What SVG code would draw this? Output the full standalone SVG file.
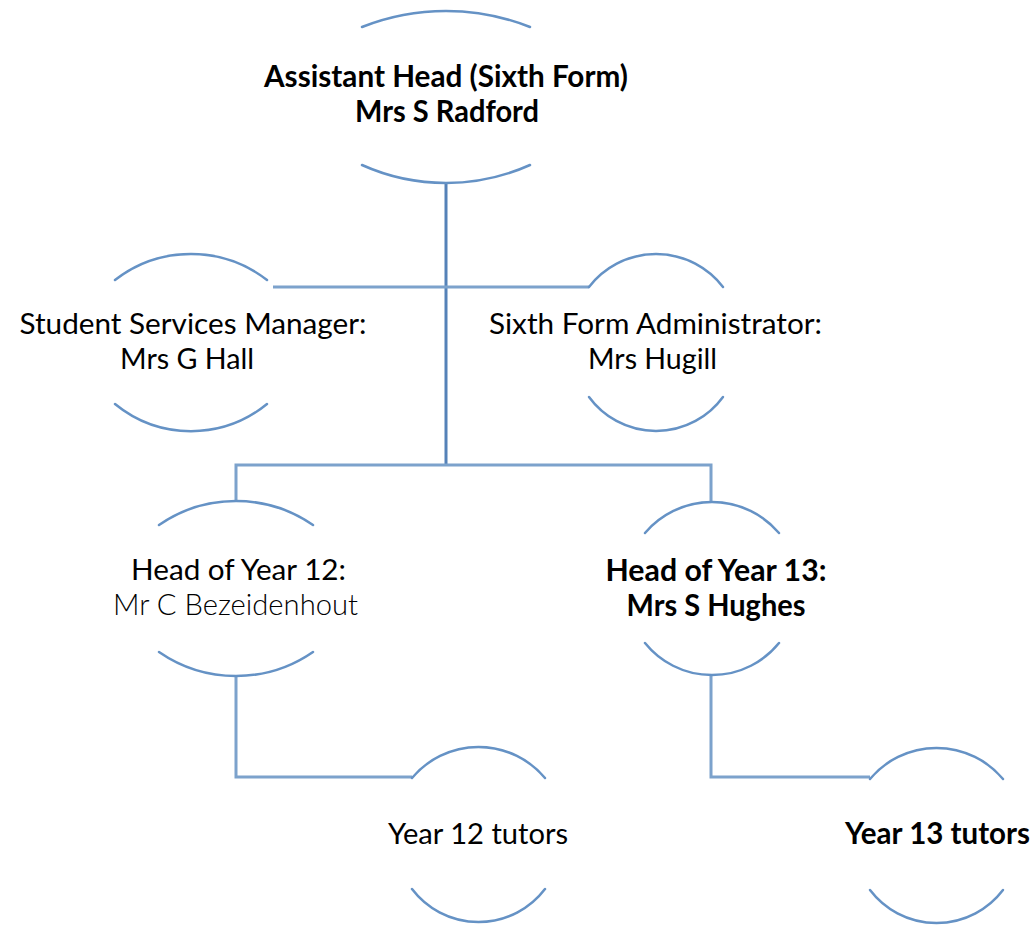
<svg xmlns="http://www.w3.org/2000/svg" width="1036" height="925" viewBox="0 0 1036 925">
<style>
  .arc { fill: none; stroke: #6592c5; stroke-width: 2.5; stroke-linecap: round; }
  .conn { fill: none; stroke: #7ca2cc; stroke-width: 3; }
  .trunk { fill: none; stroke: #5582b8; stroke-width: 3; }
  text { font-family: Lato, "Open Sans", "Liberation Sans", sans-serif; font-size: 29.5px; fill: #000; text-anchor: middle; }
  .b { font-weight: bold; }
  .l { font-weight: 300; }
</style>
<rect width="1036" height="925" fill="#fff"/>
<g id="connectors">
  <path class="trunk" d="M446 183 V465"/>
  <path class="conn" d="M273 287 H589"/>
  <path class="conn" d="M236 501 V465 H711 V502"/>
  <path class="conn" d="M236 676 V777 H412"/>
  <path class="conn" d="M711 675 V777 H870"/>
</g>
<g id="node-assistant-head">
  <path class="arc" d="M362 27 A228.5 228.5 0 0 1 530 27"/>
  <path class="arc" d="M362 165 A205 205 0 0 0 530 165"/>
  <text class="b" x="446" y="87" textLength="364" lengthAdjust="spacingAndGlyphs">Assistant Head (Sixth Form)</text>
  <text class="b" x="447" y="122" textLength="184" lengthAdjust="spacingAndGlyphs">Mrs S Radford</text>
</g>
<g id="node-student-services">
  <path class="arc" d="M115 280 A124 124 0 0 1 267 280"/>
  <path class="arc" d="M115 404 A120 120 0 0 0 267 404"/>
  <text x="193" y="334" textLength="347" lengthAdjust="spacingAndGlyphs">Student Services Manager:</text>
  <text x="187" y="369" textLength="134" lengthAdjust="spacingAndGlyphs">Mrs G Hall</text>
</g>
<g id="node-administrator">
  <path class="arc" d="M589 287 A84.5 84.5 0 0 1 723 287"/>
  <path class="arc" d="M589 397 A83 83 0 0 0 723 397"/>
  <text x="655.5" y="334" textLength="333" lengthAdjust="spacingAndGlyphs">Sixth Form Administrator:</text>
  <text x="652.5" y="369" textLength="129" lengthAdjust="spacingAndGlyphs">Mrs Hugill</text>
</g>
<g id="node-head-year-12">
  <path class="arc" d="M159 525 A135.5 135.5 0 0 1 313 525"/>
  <path class="arc" d="M159 652 A135.5 135.5 0 0 0 313 652"/>
  <text x="238.5" y="580" textLength="215" lengthAdjust="spacingAndGlyphs">Head of Year 12:</text>
  <text class="l" x="235.5" y="615" textLength="245" lengthAdjust="spacingAndGlyphs">Mr C Bezeidenhout</text>
</g>
<g id="node-head-year-13">
  <path class="arc" d="M645 533 A88 88 0 0 1 779 533"/>
  <path class="arc" d="M645 643 A86 86 0 0 0 779 643"/>
  <text class="b" x="716" y="581" textLength="221" lengthAdjust="spacingAndGlyphs">Head of Year 13:</text>
  <text class="b" x="716" y="616" textLength="179" lengthAdjust="spacingAndGlyphs">Mrs S Hughes</text>
</g>
<g id="node-year-12-tutors">
  <path class="arc" d="M412 778 A86.8 86.8 0 0 1 545 778"/>
  <path class="arc" d="M412 889 A83.5 83.5 0 0 0 545 889"/>
  <text x="478" y="844" textLength="180" lengthAdjust="spacingAndGlyphs">Year 12 tutors</text>
</g>
<g id="node-year-13-tutors">
  <path class="arc" d="M870 779 A86.8 86.8 0 0 1 1003 779"/>
  <path class="arc" d="M870 890 A83.5 83.5 0 0 0 1003 890"/>
  <text class="b" x="937.5" y="844" textLength="185" lengthAdjust="spacingAndGlyphs">Year 13 tutors</text>
</g>
</svg>
